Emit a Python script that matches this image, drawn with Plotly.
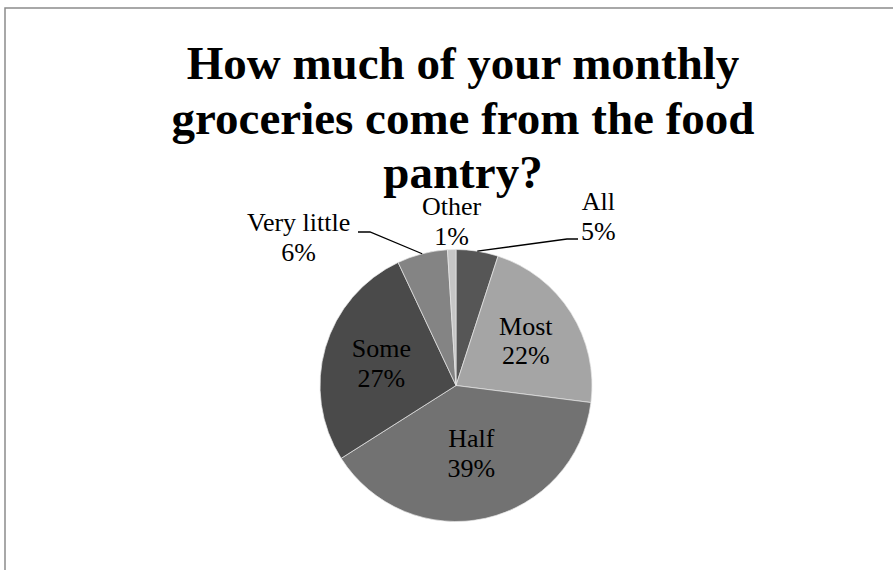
import math
import plotly.graph_objects as go

# ---- data ----
labels = ["All", "Most", "Half", "Some", "Very little", "Other"]
values = [5, 22, 39, 27, 6, 1]
colors = ["#565656", "#a5a5a5", "#727272", "#4a4a4a", "#848484", "#c6c6c6"]
inside = [False, True, True, True, False, False]
title_lines = ["How much of your monthly", "groceries come from the food", "pantry?"]

W, H = 893, 570
CX, CY, R = 456, 385.5, 136  # pie centre / radius in pixels


def px(x):
    return x / W


def py(y):
    return 1 - y / H


FONT = "Liberation Serif, Times New Roman, serif"
LSIZE = 26      # glyph size of labels
LBASE = 23      # base size -> sets line spacing (~30px)
TSIZE = 47      # glyph size of title
TBASE = 42      # base size -> sets title line spacing (~54px)


def big(s, size):
    return f"<span style='font-size:{size}px'>{s}</span>"


templates = [big("%{label}", LSIZE) + "<br>" + big("%{percent:.0%}", LSIZE) if f else ""
             for f in inside]

fig = go.Figure(
    go.Pie(
        labels=labels,
        values=values,
        sort=False,
        direction="clockwise",
        marker=dict(colors=colors, line=dict(color="#e6e6e6", width=0.7)),
        texttemplate=templates,
        textposition="inside",
        insidetextorientation="horizontal",
        textfont=dict(family=FONT, size=LBASE, color="black"),
        hoverinfo="label+percent",
        domain=dict(x=[px(CX - R), px(CX + R)], y=[py(CY + R), py(CY - R)]),
        showlegend=False,
    )
)

# slice mid-angle edge points computed from data
total = sum(values)
cum = 0
edge = {}
for lab, v in zip(labels, values):
    mid = (cum + v / 2) / total * 2 * math.pi
    edge[lab] = (CX + R * math.sin(mid), CY - R * math.cos(mid))
    cum += v

shapes = []
# frame (cropped on the right/bottom)
shapes.append(dict(type="rect", xref="paper", yref="paper",
                   x0=px(5), x1=1.02, y0=-0.02, y1=py(8),
                   line=dict(color="#8c8c8c", width=1.5)))


def leader(pts):
    d = "M " + " L ".join(f"{px(x)},{py(y)}" for x, y in pts)
    return dict(type="path", xref="paper", yref="paper", path=d,
                line=dict(color="black", width=1.3))


ex, ey = edge["All"]
shapes.append(leader([(ex, ey), (567, 239), (578, 239)]))
ex, ey = edge["Very little"]
shapes.append(leader([(ex, ey), (370, 232), (358, 232)]))

pct = {l: f"{round(v / total * 100)}%" for l, v in zip(labels, values)}


def lab_ann(x, y, name):
    txt = big(name, LSIZE) + "<br>" + big(pct[name], LSIZE)
    return dict(x=px(x), y=py(y), text=txt, showarrow=False,
                xref="paper", yref="paper", xanchor="center", yanchor="middle",
                font=dict(family=FONT, size=LBASE, color="black"))


annotations = [
    lab_ann(598, 216, "All"),
    lab_ann(452, 221, "Other"),
    lab_ann(298, 238, "Very little"),
]

fig.update_layout(
    width=W, height=H,
    margin=dict(l=0, r=0, t=0, b=0),
    paper_bgcolor="white", plot_bgcolor="white",
    title=dict(text="<br>".join(big(t, TSIZE) for t in title_lines),
               x=px(463), xanchor="center",
               y=py(79), yanchor="middle",
               font=dict(family=FONT, size=TBASE, color="black", weight="bold")),
    shapes=shapes,
    annotations=annotations,
)

fig.write_html("out.html",
               config={"displayModeBar": False},
               post_script="document.body.style.margin='0';document.body.style.padding='0';")
